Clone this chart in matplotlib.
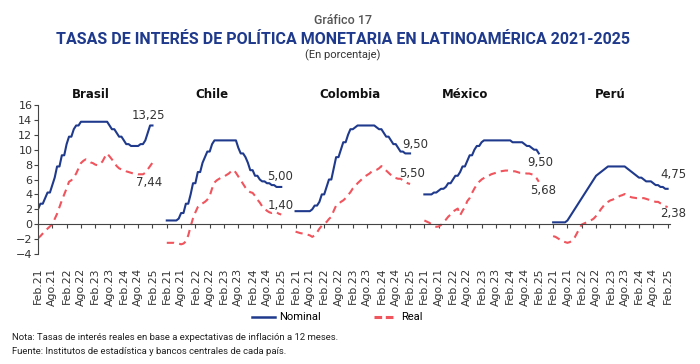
import numpy as np
import matplotlib
matplotlib.use("Agg")
import matplotlib.pyplot as plt
from matplotlib.lines import Line2D

# Monthly data, Feb.21 - Feb.25 (49 months per country)
countries = ["Brasil", "Chile", "Colombia", "México", "Perú"]

brasil_nominal = [2.0, 2.75, 2.75, 3.5, 4.25, 4.25, 5.25, 6.25, 7.75, 7.75, 9.25, 9.25, 10.75,
                  11.75, 11.75, 12.75, 13.25, 13.25, 13.75, 13.75, 13.75, 13.75, 13.75, 13.75,
                  13.75, 13.75, 13.75, 13.75, 13.75, 13.75, 13.25, 12.75, 12.75, 12.25, 11.75,
                  11.75, 11.25, 10.75, 10.75, 10.5, 10.5, 10.5, 10.5, 10.75, 10.75, 11.25, 12.25,
                  13.25, 13.25]
brasil_real = [-1.9, -1.6, -1.25, -0.9, -0.6, -0.3, 0.0, 0.7, 1.4, 2.3, 3.2, 4.0, 4.8, 5.7, 5.9,
               6.3, 6.8, 7.5, 8.2, 8.5, 8.7, 8.5, 8.3, 8.2, 8.0, 7.9, 8.1, 8.4, 9.0, 9.5, 9.1, 8.7,
               8.25, 7.8, 7.5, 7.35, 7.3, 7.1, 7.0, 6.9, 6.8, 6.8, 6.7, 6.7, 6.7, 6.9, 7.35, 7.8,
               8.25]

chile_nominal = [0.5, 0.5, 0.5, 0.5, 0.5, 0.75, 1.5, 1.5, 2.75, 2.75, 4.0, 5.5, 5.5, 7.0, 7.0,
                 8.25, 9.0, 9.75, 9.75, 10.75, 11.25, 11.25, 11.25, 11.25, 11.25, 11.25, 11.25,
                 11.25, 11.25, 11.25, 10.25, 9.5, 9.5, 9.0, 8.25, 7.25, 7.25, 6.5, 6.5, 6.0, 5.75,
                 5.75, 5.5, 5.5, 5.25, 5.25, 5.0, 5.0, 5.0]
chile_real = [-2.5, -2.5, -2.5, -2.5, -2.6, -2.6, -2.7, -2.6, -2.3, -1.5, -0.3, 0.8, 1.6, 2.3,
              2.6, 2.8, 3.0, 3.3, 3.8, 4.8, 5.6, 5.9, 6.1, 6.3, 6.4, 6.6, 6.8, 7.1, 7.3, 6.9, 6.4,
              5.9, 5.4, 4.9, 4.5, 4.3, 4.2, 3.8, 3.3, 2.9, 2.4, 2.1, 1.8, 1.6, 1.5, 1.6, 1.6, 1.4,
              1.3]

colombia_nominal = [1.75, 1.75, 1.75, 1.75, 1.75, 1.75, 1.75, 2.0, 2.5, 2.5, 3.0, 4.0, 4.0, 5.0,
                    6.0, 6.0, 7.5, 9.0, 9.0, 10.0, 11.0, 11.0, 12.0, 12.75, 12.75, 13.0, 13.25,
                    13.25, 13.25, 13.25, 13.25, 13.25, 13.25, 13.25, 13.0, 12.75, 12.75, 12.25,
                    11.75, 11.75, 11.25, 10.75, 10.75, 10.25, 9.75, 9.75, 9.5, 9.5, 9.5]
colombia_real = [-1.0, -1.1, -1.2, -1.25, -1.3, -1.4, -1.5, -1.7, -1.5, -1.1, -0.6, -0.2, 0.1,
                 0.3, 0.7, 1.0, 1.8, 2.5, 2.7, 3.0, 3.2, 3.5, 3.9, 4.3, 4.8, 5.1, 5.5, 5.8, 6.1,
                 6.4, 6.6, 6.8, 7.1, 7.2, 7.3, 7.5, 7.8, 7.5, 7.2, 6.9, 6.6, 6.3, 6.2, 6.1, 6.1,
                 5.9, 5.7, 5.5, 5.4]

mexico_nominal = [4.0, 4.0, 4.0, 4.0, 4.25, 4.25, 4.5, 4.75, 4.75, 5.0, 5.5, 5.5, 6.0, 6.5, 6.5,
                  7.0, 7.75, 7.75, 8.5, 9.25, 9.25, 10.0, 10.5, 10.5, 11.0, 11.25, 11.25, 11.25,
                  11.25, 11.25, 11.25, 11.25, 11.25, 11.25, 11.25, 11.25, 11.25, 11.0, 11.0, 11.0,
                  11.0, 11.0, 10.75, 10.5, 10.5, 10.25, 10.0, 10.0, 9.5]
mexico_real = [0.5, 0.35, 0.2, 0.0, -0.2, -0.35, -0.3, -0.1, 0.3, 0.6, 1.0, 1.3, 1.7, 1.9, 2.1,
               1.2, 1.8, 2.3, 3.1, 3.5, 4.2, 4.8, 5.3, 5.7, 6.0, 6.2, 6.4, 6.5, 6.7, 6.8, 6.9, 7.0,
               7.1, 7.15, 7.2, 7.2, 7.15, 7.1, 7.1, 7.0, 6.9, 6.9, 6.85, 6.8, 6.8, 6.7, 6.6, 6.2,
               5.7]

peru_nominal = [0.25, 0.25, 0.25, 0.25, 0.25, 0.25, 0.5, 1.0, 1.5, 2.0, 2.5, 3.0, 3.5, 4.0, 4.5,
                5.0, 5.5, 6.0, 6.5, 6.75, 7.0, 7.25, 7.5, 7.75, 7.75, 7.75, 7.75, 7.75, 7.75, 7.75,
                7.75, 7.5, 7.25, 7.0, 6.75, 6.5, 6.25, 6.25, 6.0, 5.75, 5.75, 5.75, 5.5, 5.25,
                5.25, 5.0, 5.0, 4.75, 4.75]
peru_real = [-1.6, -1.7, -1.9, -2.1, -2.3, -2.4, -2.5, -2.4, -2.2, -1.8, -1.2, -0.6, -0.05, 0.1,
             0.25, 0.4, 0.55, 0.75, 1.1, 1.5, 2.0, 2.4, 2.8, 3.0, 3.2, 3.3, 3.5, 3.6, 3.8, 3.9,
             4.05, 3.8, 3.7, 3.6, 3.55, 3.5, 3.5, 3.5, 3.5, 3.4, 3.3, 3.2, 3.1, 3.0, 3.0, 2.8,
             2.6, 2.4, 2.3]

nominal = [brasil_nominal, chile_nominal, colombia_nominal, mexico_nominal, peru_nominal]
real = [brasil_real, chile_real, colombia_real, mexico_real, peru_real]

# labels of the latest values
nominal_labels = ["13,25", "5,00", "9,50", "9,50", "4,75"]
real_labels = ["7,44", "1,40", "5,50", "5,68", "2,38"]

tick_labels = ["Feb.21", "Ago.21", "Feb.22", "Ago.22", "Feb.23",
               "Ago.23", "Feb.24", "Ago.24", "Feb.25"]

# layout
panel_step = 54          # 49 months + gap
nominal_lbl_pos = [(46.1, 14.6), (47.4, 6.4), (50.0, 10.7), (48.8, 8.3), (50.5, 6.7)]
real_lbl_pos = [(46.5, 5.6), (47.8, 2.5), (48.8, 6.8), (49.7, 4.5), (50.5, 1.4)]
name_shift = [-2, -5, -1, -7, 0]

NAVY = "#1f3a8c"
RED = "#f0545c"
TXT = "#333333"
narrow = ["Roboto", "DejaVu Sans"]

fig = plt.figure(figsize=(7, 3.64), dpi=100)
ax = fig.add_axes([38 / 700, 1 - 254 / 364, 632 / 700, 149 / 364])

months = np.arange(49)
ticks, labels = [], []
for i, name in enumerate(countries):
    x = months + i * panel_step
    ax.plot(x, nominal[i], color=NAVY, lw=1.5, solid_joinstyle="round")
    ax.plot(x, real[i], color=RED, lw=1.5, dashes=(3.5, 2.5))
    ticks += list(x[::6])
    labels += tick_labels
    ax.text(i * panel_step + 24 + name_shift[i], 16.6, name, ha="center", va="bottom",
            fontsize=8.5, fontweight="bold", color="#111111")
    nx, ny = nominal_lbl_pos[i]
    rx, ry = real_lbl_pos[i]
    ax.text(i * panel_step + nx, ny, nominal_labels[i], ha="center", va="center",
            fontsize=8.5, color=TXT)
    ax.text(i * panel_step + rx, ry, real_labels[i], ha="center", va="center",
            fontsize=8.5, color=TXT)

ax.set_xlim(0, 265)
ax.set_ylim(-4, 16)
ax.set_yticks(range(-4, 17, 2))
ax.tick_params(axis="y", labelsize=8, colors="#444444", labelcolor=TXT, length=3, pad=1)
ax.set_xticks(ticks)
ax.tick_params(axis="x", direction="out", length=3, colors="#444444", labelbottom=False)
for s in ["top", "right"]:
    ax.spines[s].set_visible(False)
ax.spines["bottom"].set_position(("data", 0))
ax.spines["bottom"].set_color("#444444")
ax.spines["left"].set_color("#444444")

sec = ax.secondary_xaxis("bottom")
sec.set_xticks(ticks)
sec.set_xticklabels(labels, rotation=90, fontsize=7.8, color=TXT)
sec.tick_params(length=0, pad=10)
sec.spines["bottom"].set_visible(False)

# titles
fig.text(0.49, 0.945, "Gráfico 17", ha="center", va="center", fontsize=9,
         fontweight="medium", color="#555555", family=narrow)
fig.text(0.49, 0.892, "TASAS DE INTERÉS DE POLÍTICA MONETARIA EN LATINOAMÉRICA 2021-2025",
         ha="center", va="center", fontsize=11.5, fontweight="bold", color=NAVY, family=narrow)
fig.text(0.49, 0.848, "(En porcentaje)", ha="center", va="center", fontsize=8,
         color=TXT, family=narrow)

handles = [Line2D([], [], color=NAVY, lw=1.8),
           Line2D([], [], color=RED, lw=2.2, dashes=(2.5, 1.2))]
fig.legend(handles, ["Nominal", "Real"], loc="center", bbox_to_anchor=(0.482, 0.128),
           ncol=2, frameon=False, handlelength=2.0, columnspacing=4.8,
           handletextpad=0.4, prop={"family": narrow, "size": 8})

fig.text(0.017, 0.072, "Nota: Tasas de interés reales en base a expectativas de inflación a 12 meses.",
         fontsize=6.8, color="#222222", va="center", family=narrow)
fig.text(0.017, 0.035, "Fuente: Institutos de estadística y bancos centrales de cada país.",
         fontsize=6.8, color="#222222", va="center", family=narrow)

fig.savefig("out.png", dpi=100)
